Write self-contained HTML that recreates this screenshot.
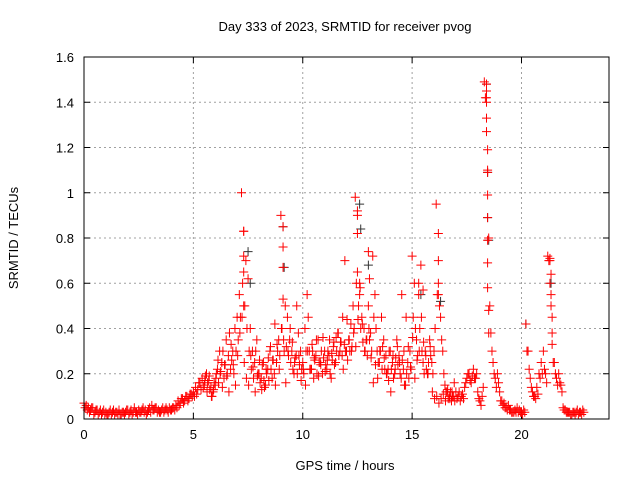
<!DOCTYPE html>
<html><head><meta charset="utf-8"><style>
body{margin:0;background:#fff;width:640px;height:480px;overflow:hidden}
svg text{font-family:"Liberation Sans",sans-serif;font-size:13px;fill:#000}
</style></head><body>
<svg id="chart" width="640" height="480" xmlns="http://www.w3.org/2000/svg">
<text x="345" y="31" text-anchor="middle">Day 333 of 2023, SRMTID for receiver pvog</text>
<text x="345" y="470" text-anchor="middle">GPS time / hours</text>
<text transform="translate(18,238) rotate(-90)" text-anchor="middle">SRMTID / TECUs</text>
<g id="grid"></g><g id="ticks"></g><g id="marks"></g>
<rect x="84" y="57" width="525" height="362" fill="none" stroke="#000"/>
</svg>
<script>
const xTicks=[0,5,10,15,20];
const yTicks=[0,0.2,0.4,0.6,0.8,1,1.2,1.4,1.6];
const yTickLabels=["0","0.2","0.4","0.6","0.8","1","1.2","1.4","1.6"];
const baseStart=0, baseStep=0.1;
const redValues=[
0.07,0.06,0.05,0.04,0.05,0.03,0.04,0.03,0.02,0.04,
0.03,0.02,0.04,0.03,0.02,0.03,0.04,0.02,0.03,0.03,
0.04,0.03,0.02,0.05,0.03,0.04,0.03,0.05,0.04,0.03,
0.05,0.06,0.04,0.05,0.04,0.03,0.05,0.04,0.04,0.05,
0.04,0.05,0.06,0.08,0.07,0.09,0.08,0.10,0.09,0.11,
0.12,0.14,0.13,0.16,0.18,0.15,0.20,0.17,0.14,0.12,
0.15,0.22,0.30,0.25,0.18,0.35,0.28,0.22,0.30,0.40,
0.45,0.55,1.00,0.83,0.70,0.62,0.40,0.30,0.25,0.35,
0.20,0.18,0.25,0.15,0.22,0.30,0.18,0.20,0.25,0.35,
0.90,0.76,0.50,0.45,0.35,0.30,0.20,0.28,0.38,0.30,
0.25,0.40,0.55,0.30,0.22,0.18,0.28,0.35,0.25,0.20,
0.30,0.22,0.28,0.18,0.32,0.25,0.38,0.30,0.28,0.33,
0.30,0.35,0.42,0.50,0.98,0.90,0.60,0.45,0.40,0.35,
0.50,0.38,0.72,0.55,0.30,0.25,0.45,0.35,0.28,0.22,
0.30,0.25,0.20,0.35,0.28,0.18,0.22,0.15,0.25,0.30,
0.72,0.60,0.35,0.55,0.68,0.25,0.30,0.20,0.35,0.25,
0.30,0.95,0.60,0.45,0.30,0.15,0.12,0.10,0.08,0.10,
0.12,0.10,0.08,0.11,0.14,0.18,0.20,0.16,0.22,0.18,
0.12,0.08,0.10,1.49,1.40,0.80,0.38,0.25,0.18,0.20,
0.12,0.08,0.07,0.05,0.06,0.04,0.03,0.04,0.05,0.04,
0.03,0.04,0.42,0.30,0.18,0.12,0.10,0.14,0.20,0.25,
0.30,0.20,0.72,0.60,0.33,0.25,0.18,0.20,0.15,0.05,
0.04,0.03,0.03,0.02,0.03,0.03,0.02,0.03,0.04];
const lowValues=[
0.05,0.04,0.03,0.05,0.02,0.04,0.02,0.04,0.03,0.02,
0.02,0.03,0.02,0.04,0.03,0.02,0.02,0.03,0.02,0.04,
0.02,0.04,0.03,0.03,0.02,0.03,0.04,0.03,0.02,0.04,
0.03,0.04,0.05,0.03,0.03,0.04,0.03,0.05,0.03,0.04,
0.05,0.04,0.05,0.06,0.09,0.07,0.10,0.08,0.11,0.10,
0.10,0.11,0.16,0.13,0.14,0.19,0.16,0.13,0.10,0.16,
0.20,0.16,0.21,0.30,0.24,0.20,0.38,0.26,0.20,0.30,
0.35,0.45,0.60,0.50,0.40,0.30,0.22,0.18,0.30,0.20,
0.16,0.24,0.14,0.20,0.17,0.22,0.26,0.15,0.30,0.28,
0.40,0.30,0.32,0.28,0.25,0.22,0.27,0.20,0.24,0.22,
0.20,0.30,0.45,0.22,0.30,0.26,0.20,0.25,0.30,0.27,
0.24,0.30,0.20,0.26,0.24,0.30,0.28,0.34,0.22,0.30,
0.26,0.30,0.32,0.40,0.60,0.50,0.40,0.34,0.30,0.28,
0.35,0.30,0.45,0.40,0.25,0.30,0.32,0.22,0.20,0.30,
0.22,0.18,0.27,0.24,0.20,0.26,0.15,0.20,0.18,0.22,
0.45,0.40,0.28,0.40,0.30,0.20,0.22,0.25,0.28,0.20,
0.40,0.55,0.50,0.35,0.20,0.12,0.09,0.12,0.10,0.08,
0.09,0.12,0.10,0.09,0.16,0.20,0.17,0.19,0.18,0.20,
0.09,0.06,0.14,1.42,1.10,0.50,0.30,0.20,0.14,0.16,
0.08,0.06,0.05,0.04,0.04,0.03,0.03,0.03,0.03,0.03,
0.02,0.03,0.30,0.22,0.14,0.10,0.09,0.11,0.18,0.20,
0.22,0.16,0.70,0.50,0.25,0.20,0.15,0.16,0.12,0.04,
0.03,0.03,0.02,0.03,0.02,0.04,0.03,0.02,0.03];
const midStart=5.5;
const midValues=[
0.17,0.12,0.19,0.10,0.13,0.18,0.26,0.20,0.14,0.24,0.19,0.12,0.33,0.24,0.15,
0.28,0.38,0.45,0.25,0.18,0.15,0.28,0.23,0.12,0.19,0.26,0.13,0.17,0.22,0.27,
0.32,0.26,0.42,0.33,0.22,0.40,0.35,0.16,0.30,0.40,0.34,0.25,0.50,0.28,0.17,
0.22,0.15,0.30,0.22,0.33,0.27,0.35,0.19,0.24,0.36,0.21,0.26,0.35,0.29,0.34,
0.36,0.38,0.34,0.45,0.70,0.44,0.35,0.30,0.38,0.32,0.44,0.58,0.42,0.30,0.35,
0.40,0.27,0.16,0.24,0.18,0.30,0.22,0.27,0.20,0.17,0.12,0.28,0.22,0.32,0.25,
0.55,0.30,0.45,0.32,0.23,0.36,0.18,0.26,0.30,0.45,0.34,0.28,0.20,0.32,0.12,
0.09,0.10,0.07,0.09,0.11,0.08,0.13,0.09,0.12,0.16];
const spikeTimes=[7.3,7.3,7.3,7.3,9.1,9.1,9.1,12.5,12.5,12.5,12.6,16.2,16.2,16.2,
18.4,18.4,18.4,18.4,18.4,18.45,18.45,18.45,18.45,18.45,18.45,18.45,18.5,18.5,
21.3,21.3,21.35,21.35,21.4,21.4,15.3,15.5,13.0,13.05];
const spikeValues=[0.83,0.72,0.65,0.5,0.85,0.67,0.53,0.92,0.82,0.65,0.55,0.82,0.7,0.55,
1.48,1.45,1.42,1.33,1.27,1.19,1.09,0.99,0.89,0.79,0.69,0.58,0.48,0.38,
0.71,0.70,0.64,0.55,0.45,0.38,0.6,0.57,0.74,0.62];
const blackTimes=[7.5,7.6,9.1,9.15,12.6,12.65,13.0,15.4,16.3,18.4,18.45,18.45,18.5,20.2,21.35];
const blackValues=[0.74,0.6,0.85,0.67,0.95,0.84,0.68,0.55,0.52,1.48,1.09,0.89,0.79,0.42,0.6];
const X0=84,X1=609,Y0=419,Y1=57;
const xs=t=>X0+(t/24)*(X1-X0);
const ys=v=>Y0-(v/1.6)*(Y0-Y1);
const NS="http://www.w3.org/2000/svg";
const grid=document.getElementById('grid'),ticks=document.getElementById('ticks'),marks=document.getElementById('marks');
function mk(tag,attrs,parent){const e=document.createElementNS(NS,tag);for(const k in attrs)e.setAttribute(k,attrs[k]);parent.appendChild(e);return e;}
xTicks.forEach(t=>{const x=xs(t);
 if(t>0){const g=mk('line',{x1:x,x2:x,y1:Y0,y2:Y1,stroke:'#a0a0a0','stroke-dasharray':'2,3'},grid);
 
 }
 mk('line',{x1:x,x2:x,y1:Y0,y2:Y0-6,stroke:'#000'},ticks);
 mk('line',{x1:x,x2:x,y1:Y1,y2:Y1+6,stroke:'#000'},ticks);
 const l=mk('text',{x:x,y:Y0+20,'text-anchor':'middle'},ticks);l.textContent=t;
 
 });
yTicks.forEach((v,i)=>{const y=ys(v);
 if(v>0&&v<1.6){const g=mk('line',{x1:X0,x2:X1,y1:y,y2:y,stroke:'#a0a0a0','stroke-dasharray':'2,3'},grid);
 
 }
 mk('line',{x1:X0,x2:X0+6,y1:y,y2:y,stroke:'#000'},ticks);
 mk('line',{x1:X1,x2:X1-6,y1:y,y2:y,stroke:'#000'},ticks);
 const l=mk('text',{x:X0-10,y:y+5,'text-anchor':'end'},ticks);l.textContent=yTickLabels[i];
 
 });
function cross(t,v,color,name){const x=xs(t),y=ys(v);
 const p=mk('path',{d:`M${x-4.5},${y}h9M${x},${y-4.5}v9`,stroke:color,'stroke-width':1,fill:'none'},marks);
 
 }
blackTimes.forEach((t,i)=>cross(t,blackValues[i],'#333','black-point'));
redValues.forEach((v,i)=>{const t=baseStart+i*baseStep;cross(t,v,'#f00','red-point');cross(t+0.05,lowValues[i],'#f00','red-point');});
midValues.forEach((v,i)=>cross(midStart+i*baseStep+0.025,v,'#f00','red-point'));
spikeTimes.forEach((t,i)=>cross(t,spikeValues[i],'#f00','red-spike-point'));
</script>
</body></html>
